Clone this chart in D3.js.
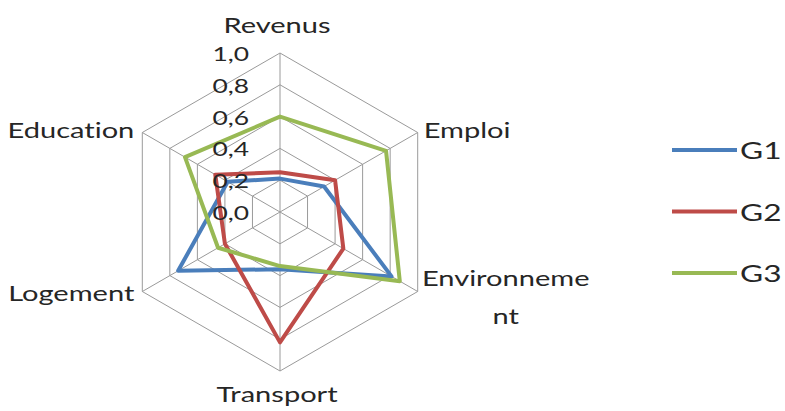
<!DOCTYPE html>
<html>
<head>
<meta charset="utf-8">
<script src="https://cdn.jsdelivr.net/npm/d3@7"></script>
<style>
  body { margin: 0; background: #fff; }
  text { font-family: Lato, "Open Sans", sans-serif; fill: #262626; font-variant-ligatures: none; }
</style>
</head>
<body>
<svg id="chart" width="785" height="411"></svg>
<script>
// ######### DATA ###########
var axes = ["Revenus", "Emploi", "Environnement", "Transport", "Logement", "Education"];
// Excel wraps the long label on two lines
var axisLabelLines = [["Revenus"], ["Emploi"], ["Environneme", "nt"], ["Transport"], ["Logement"], ["Education"]];
var seriesNames = ["G1", "G2", "G3"];
var g1 = [0.21, 0.32, 0.81, 0.36, 0.74, 0.38];
var g2 = [0.25, 0.40, 0.46, 0.82, 0.40, 0.47];
var g3 = [0.60, 0.77, 0.87, 0.34, 0.45, 0.69];
var tickValues = [0, 0.2, 0.4, 0.6, 0.8, 1.0];
var tickLabels = ["0,0", "0,2", "0,4", "0,6", "0,8", "1,0"];

// ######### PARAMETERS ###########
var width = 785, height = 411;
var cx = 280, cy = 212, radius = 159;
var colors = ["#4a7ebb", "#be4b48", "#98b954"];
var gridColor = "#9a9a9a";
var stretch = 1.32; // the source picture is widened, so the text is too
var lineHeight = 38;

var series = [g1, g2, g3];

var svg = d3.select("#chart");

var r = d3.scaleLinear().domain([0, 1]).range([0, radius]);
var angle = d3.scaleLinear().domain([0, axes.length]).range([0, 2 * Math.PI]);

function px(v, i) { return cx + r(v) * Math.sin(angle(i)); }
function py(v, i) { return cy - r(v) * Math.cos(angle(i)); }

var radial = d3.lineRadial()
    .angle(function(d, i) { return angle(i); })
    .radius(function(d) { return r(d); })
    .curve(d3.curveLinearClosed);

var plot = svg.append("g").attr("transform", "translate(" + cx + "," + cy + ")");

// grid rings
plot.selectAll(".ring")
    .data(tickValues.filter(function(t) { return t > 0; }))
    .enter().append("path")
    .attr("class", "ring")
    .attr("d", function(t) { return radial(axes.map(function() { return t; })); })
    .attr("fill", "none")
    .attr("stroke", gridColor)
    .attr("stroke-width", 1);

// spokes
plot.selectAll(".spoke")
    .data(axes)
    .enter().append("line")
    .attr("class", "spoke")
    .attr("x1", 0).attr("y1", 0)
    .attr("x2", function(d, i) { return px(1, i) - cx; })
    .attr("y2", function(d, i) { return py(1, i) - cy; })
    .attr("stroke", gridColor)
    .attr("stroke-width", 1);

// series lines
plot.selectAll(".serie")
    .data(series)
    .enter().append("path")
    .attr("class", "serie")
    .attr("d", function(d) { return radial(d); })
    .attr("fill", "none")
    .attr("stroke", function(d, i) { return colors[i]; })
    .attr("stroke-width", 4)
    .attr("stroke-linejoin", "round");

// stretched text helper
function stretchedText(sel, x, y, size, anchor) {
    return sel.append("text")
        .attr("transform", "translate(" + x + "," + y + ") scale(" + stretch + ",1)")
        .attr("text-anchor", anchor)
        .style("font-size", size + "px");
}

// tick labels
tickValues.forEach(function(t, k) {
    stretchedText(svg, cx - 31, cy - r(t) + 8, 20, "end").text(tickLabels[k]);
});

// axis labels
axisLabelLines.forEach(function(lines, i) {
    var a = angle(i), vx = px(1, i), vy = py(1, i);
    var s = Math.sin(a), c = Math.cos(a);
    var x, y, anchor;
    if (Math.abs(s) < 0.01) {
        anchor = "middle";
        x = vx - 3;
        y = c > 0 ? vy - 20 : vy + 31;
    } else {
        anchor = s > 0 ? "start" : "end";
        x = s > 0 ? vx + 6 : vx - 8;
        y = c > 0 ? vy + 5 : vy + 9;
    }
    if (lines.length > 1) {
        // wrapped label is a centred block, vertically centred on the vertex
        var blockWidth = 164;
        var y0 = y - (lines.length - 1) * lineHeight / 2 + 4;
        lines.forEach(function(line, j) {
            stretchedText(svg, x + blockWidth / 2, y0 + j * lineHeight, 22, "middle").text(line);
        });
    } else {
        stretchedText(svg, x, y, 22, anchor).text(lines[0]);
    }
});

// legend
var legendY = d3.scalePoint().domain(seriesNames).range([150, 273]);
var legend = svg.selectAll(".legend")
    .data(seriesNames)
    .enter().append("g")
    .attr("class", "legend")
    .attr("transform", function(d) { return "translate(672," + legendY(d) + ")"; });

legend.append("line")
    .attr("x1", 0).attr("x2", 65)
    .attr("stroke", function(d, i) { return colors[i]; })
    .attr("stroke-width", 4);

legend.each(function(d) {
    stretchedText(d3.select(this), 68, 9, 24, "start").text(d);
});
</script>
</body>
</html>
